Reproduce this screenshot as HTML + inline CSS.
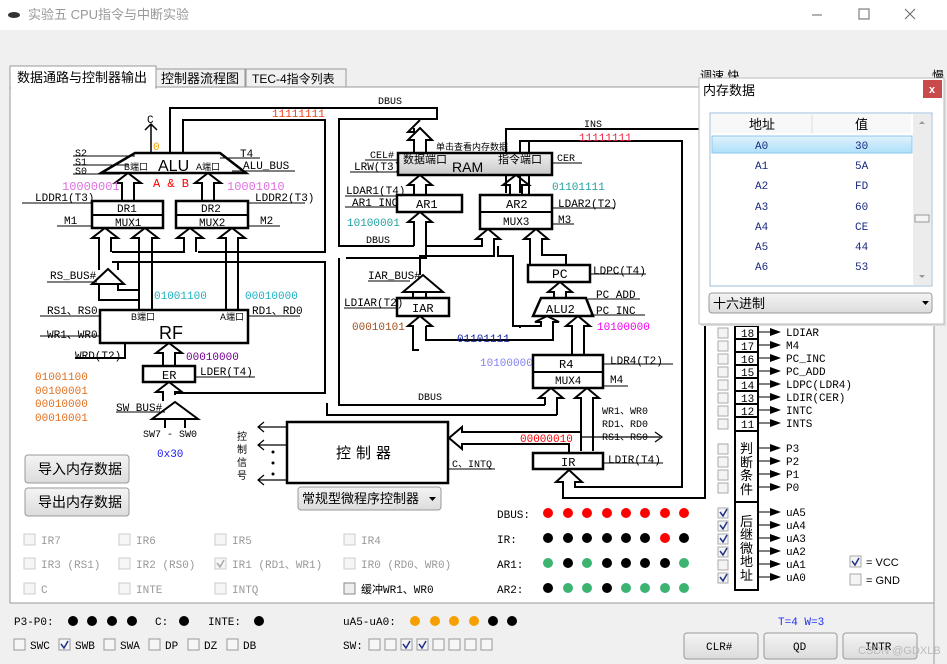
<!DOCTYPE html>
<html><head><meta charset="utf-8"><style>
body{margin:0;width:947px;height:664px;overflow:hidden;background:#f0f0f0;font-family:"Liberation Sans","Noto Sans CJK SC",sans-serif}
svg{position:absolute;left:0;top:0}
.m{font-family:"Liberation Mono","Noto Sans CJK SC",monospace;font-size:11px}
.c{font-family:"Liberation Sans","Noto Sans CJK SC",sans-serif}
</style></head><body>
<svg width="947" height="664" viewBox="0 0 947 664" xmlns="http://www.w3.org/2000/svg">
<defs>
<linearGradient id="btn" x1="0" y1="0" x2="0" y2="1"><stop offset="0" stop-color="#f4f4f4"/><stop offset="1" stop-color="#dcdcdc"/></linearGradient>
<linearGradient id="ram" x1="0" y1="0" x2="0" y2="1"><stop offset="0" stop-color="#f0f0f0"/><stop offset="1" stop-color="#c8c8c8"/></linearGradient>
<linearGradient id="sel" x1="0" y1="0" x2="0" y2="1"><stop offset="0" stop-color="#e0f2fd"/><stop offset="1" stop-color="#aee0f9"/></linearGradient>
</defs>
<!-- title bar -->
<rect x="0" y="0" width="947" height="30" fill="#fff"/>
<ellipse cx="14" cy="15" rx="6" ry="3" fill="#333"/>
<text x="28" y="19" class="c" font-size="13" fill="#999">实验五 CPU指令与中断实验</text>
<line x1="812" y1="15" x2="822" y2="15" stroke="#666"/>
<rect x="859" y="9" width="10" height="10" fill="none" stroke="#666"/>
<path d="M905 9l10 10M915 9l-10 10" stroke="#666"/>
<!-- tabs -->
<rect x="156" y="69" width="89" height="18" fill="#f0f0f0" stroke="#999"/>
<rect x="246" y="69" width="100" height="18" fill="#f0f0f0" stroke="#999"/>
<text x="161" y="83" class="c" font-size="13">控制器流程图</text>
<text x="252" y="83" class="c" font-size="12">TEC-4指令列表</text>
<rect x="10" y="87" width="924" height="516" fill="#fff" stroke="#999"/>
<rect x="10" y="66" width="146" height="22" fill="#fff" stroke="#999"/>
<rect x="11" y="86" width="144" height="3" fill="#fff"/>
<text x="17" y="82" class="c" font-size="13">数据通路与控制器输出</text>
<line x1="934" y1="87" x2="934" y2="664" stroke="#999"/>
<text x="700" y="80" class="c" font-size="12">调速 快</text>
<text x="932" y="80" class="c" font-size="12">慢</text>

<g stroke="#000" stroke-width="2" fill="none">
<path d="M170 153V108H437V119H339V246H414"/>
<path d="M183 153V120H325V252H198"/>
<path d="M112 252H185"/>
<path d="M112 262H325V393H176"/>
<path d="M339 258V405H545"/>
<path d="M327 403V415H557"/>
<path d="M346 258H426V246"/>
<path d="M135 153H220L246 173H101Z" stroke-width="2.5"/>
<path d="M151 153V124M145 130L151 124L157 130" stroke-width="1.5"/>
<path d="M122 201V183H115L128 173L141 183H134V201"/>
<path d="M202 201V183H195L208 173L221 183H214V201"/>
<path d="M99 270V238H92L105 228L118 238H111V252"/>
<path d="M139 310V238H132L145 228L158 238H152V310"/>
<path d="M184 252V238H177L190 228L203 238H196V252"/>
<path d="M226 310V238H219L232 228L245 238H238V310"/>
<path d="M118 270V262"/>
<path d="M99 284V300H139M118 284V290H139"/>
<path d="M163 366V353H156L169 343L182 353H175V366"/>
<path d="M163 401V392H156L169 382L182 392H175V395"/>
<path d="M92 284L108 269L124 284Z"/>
<path d="M152 419L175 402L198 419Z"/>
<path d="M165 419V428M185 419V428"/>
<rect x="92" y="201" width="71" height="27" stroke-width="2.5"/><path d="M92 215H163"/>
<rect x="176" y="201" width="72" height="27" stroke-width="2.5"/><path d="M176 215H248"/>
<rect x="100" y="310" width="148" height="33" stroke-width="2.5"/>
<rect x="143" y="366" width="52" height="16" stroke-width="2.5"/>
<path d="M125 343V358H75"/>
<path d="M414 153V140H408L420 128L432 140H426V153M414 128V132H408L420 120"/>
<path d="M414 195V185H408L420 175L432 185H426V195"/>
<path d="M510 195V185H503L516 175L529 185H522V195"/>
<rect x="397" y="195" width="65" height="17" stroke-width="2.5"/>
<rect x="480" y="195" width="72" height="34" stroke-width="2.5"/><path d="M480 212H552"/>
<path d="M414 246V222H408L420 212L432 222H426V246"/>
<path d="M426 246H482V239H476L488 229L500 239H494V256H420V275"/>
<path d="M506 193V129H705V498H563V482H556L569 470L582 482H575V487H682V141H520V193"/>
<path d="M529 195V141"/>
<path d="M530 265V239H524L536 229L548 239H542V255H566V265"/>
<rect x="528" y="265" width="62" height="17" stroke-width="2.5"/>
<path d="M554 298V292H548L560 282L572 292H566V298"/>
<path d="M541 298H586L593 316H533Z" stroke-width="2.5"/>
<path d="M542 326H513V256H498V246"/>
<path d="M520 328V326H541V322H535L547 316L559 322H553V340H426V326"/>
<path d="M413 340V326H408L420 316L432 326H426"/>
<path d="M572 355V326H566L578 316L590 326H584V355"/>
<path d="M403 292L423 275L443 292Z"/>
<rect x="397" y="298" width="52" height="18" stroke-width="2.5"/>
<path d="M413 298V292M426 298V292"/>
<path d="M413 340V350H419"/>
<rect x="533" y="355" width="70" height="33" stroke-width="2.5"/><path d="M533 372H603"/>
<path d="M545 405V398H539L551 388L563 398H557V415"/>
<path d="M581 451V398H575L587 388L599 398H593V451"/>
<rect x="533" y="453" width="70" height="16" stroke-width="2.5"/>
<path d="M581 437H660M655 432L662 437L655 442" stroke-width="1.2"/>
<rect x="287" y="422" width="161" height="61" stroke-width="2.5"/>
<path d="M569 453V444H462V449L449 438L462 427V432H581" />
<path d="M259 427H287M264 422L258 427L264 432M259 445H287M264 440L258 445L264 450M259 480H287M264 475L258 480L264 485" stroke-width="1.2"/>
<rect x="735" y="313" width="23" height="277" stroke-width="2"/>
<path d="M735 326H758M735 339H758M735 352H758M735 365H758M735 378H758M735 391H758M735 404H758M735 417H758M735 431H758M735 502H758"/>
</g>
<g stroke="#000" stroke-width="1" fill="none">
<path d="M73 156H135M73 165H128M73 174H120"/>
<path d="M220 158H260M232 171H295"/>
<path d="M22 203H92M57 226H92M248 203H305M248 226H280"/>
<path d="M47 282H97M40 316H100M40 336H100M248 316H300"/>
<path d="M195 377H255M116 412H165"/>
<path d="M365 160H398M350 172H398M552 163H582"/>
<path d="M345 196H397M345 207H397M552 208H615M552 224H574"/>
<path d="M368 281H410M344 308H397M590 274H646M588 299H640M590 315H645"/>
<path d="M603 364H673M603 386H628M603 463H663M448 469H495"/>
<path d="M758 332H770M758 345H770M758 358H770M758 371H770M758 384H770M758 397H770M758 410H770M758 423H770"/>
<path d="M758 448H770M758 461H770M758 474H770M758 487H770M758 512H770M758 525H770M758 538H770M758 551H770M758 564H770M758 577H770"/>
</g>
<g fill="#000">
<path d="M770 328l11 4l-11 4zM770 341l11 4l-11 4zM770 354l11 4l-11 4zM770 367l11 4l-11 4zM770 380l11 4l-11 4zM770 393l11 4l-11 4zM770 406l11 4l-11 4zM770 419l11 4l-11 4zM770 444l11 4l-11 4zM770 457l11 4l-11 4zM770 470l11 4l-11 4zM770 483l11 4l-11 4zM770 508l11 4l-11 4zM770 521l11 4l-11 4zM770 534l11 4l-11 4zM770 547l11 4l-11 4zM770 560l11 4l-11 4zM770 573l11 4l-11 4z"/>
<circle cx="273" cy="452" r="1.5"/><circle cx="273" cy="463" r="1.5"/><circle cx="273" cy="474" r="1.5"/>
</g>
<rect x="398" y="153" width="154" height="22" fill="url(#ram)" stroke="#000" stroke-width="2.5"/>

<g class="m" fill="#000">
<text x="147" y="123">C</text>
<text x="75" y="156" font-size="10">S2</text><text x="75" y="165" font-size="10">S1</text><text x="75" y="174" font-size="10">S0</text>
<text x="158" y="171" font-size="16" class="c">ALU</text>
<text x="124" y="170" font-size="9" class="c">B端口</text><text x="196" y="170" font-size="9" class="c">A端口</text>
<text x="240" y="157">T4</text><text x="243" y="169">ALU_BUS</text>
<text x="35" y="201">LDDR1(T3)</text><text x="255" y="201">LDDR2(T3)</text>
<text x="64" y="224">M1</text><text x="260" y="224">M2</text>
<text x="117" y="212">DR1</text><text x="115" y="226">MUX1</text>
<text x="201" y="212">DR2</text><text x="199" y="226">MUX2</text>
<text x="50" y="279">RS_BUS#</text>
<text x="47" y="314">RS1、RS0</text><text x="47" y="338">WR1、WR0</text><text x="252" y="314">RD1、RD0</text>
<text x="131" y="320" font-size="9" class="c">B端口</text><text x="220" y="320" font-size="9" class="c">A端口</text>
<text x="159" y="339" font-size="18" class="c">RF</text>
<text x="75" y="359">WRD(T2)</text>
<text x="162" y="379" font-size="12">ER</text>
<text x="200" y="375">LDER(T4)</text>
<text x="116" y="411">SW_BUS#</text>
<text x="143" y="437" font-size="10">SW7 - SW0</text>
<text x="378" y="104" font-size="10">DBUS</text>
<text x="584" y="127" font-size="10">INS</text>
<text x="436" y="150" font-size="9" class="c">单击查看内存数据</text>
<text x="370" y="158" font-size="10">CEL#</text><text x="354" y="170">LRW(T3)</text>
<text x="403" y="163" font-size="11" class="c">数据端口</text><text x="498" y="163" font-size="11" class="c">指令端口</text>
<text x="452" y="172" font-size="14" class="c">RAM</text>
<text x="557" y="161" font-size="10">CER</text>
<text x="346" y="194">LDAR1(T4)</text><text x="352" y="206">AR1_INC</text>
<text x="416" y="208" font-size="12">AR1</text>
<text x="506" y="208" font-size="12">AR2</text><text x="503" y="225">MUX3</text>
<text x="558" y="207">LDAR2(T2)</text><text x="558" y="223">M3</text>
<text x="366" y="243" font-size="10">DBUS</text>
<text x="552" y="278" font-size="13">PC</text><text x="593" y="274">LDPC(T4)</text>
<text x="368" y="279">IAR_BUS#</text><text x="344" y="306">LDIAR(T2)</text>
<text x="412" y="312" font-size="12">IAR</text>
<text x="546" y="313" font-size="12">ALU2</text>
<text x="596" y="298">PC_ADD</text><text x="596" y="314">PC_INC</text>
<text x="559" y="368" font-size="12">R4</text><text x="555" y="384">MUX4</text>
<text x="610" y="364">LDR4(T2)</text><text x="610" y="383">M4</text>
<text x="418" y="400" font-size="10">DBUS</text>
<text x="602" y="414" font-size="10">WR1、WR0</text><text x="602" y="427" font-size="10">RD1、RD0</text><text x="602" y="440" font-size="10">RS1、RS0</text>
<text x="561" y="466" font-size="12">IR</text><text x="608" y="463">LDIR(T4)</text>
<text x="452" y="467" font-size="10">C、INTQ</text>
<text x="336" y="458" font-size="15" class="c" letter-spacing="5">控制器</text>
<text x="237" y="440" font-size="10" class="c">控</text><text x="237" y="453" font-size="10" class="c">制</text><text x="237" y="466" font-size="10" class="c">信</text><text x="237" y="479" font-size="10" class="c">号</text>
</g>
<g class="m">
<text x="272" y="117" fill="#f04020">11111111</text>
<text x="153" y="150" fill="#f0a000">0</text>
<text x="153" y="187" fill="#f00" font-size="12">A &amp; B</text>
<text x="62" y="190" fill="#e070e0" font-size="12">10000001</text>
<text x="227" y="190" fill="#e070e0" font-size="12">10001010</text>
<text x="154" y="299" fill="#20b0c0">01001100</text>
<text x="245" y="299" fill="#20b0c0">00010000</text>
<text x="186" y="360" fill="#700090">00010000</text>
<text x="35" y="380" fill="#e07020">01001100</text>
<text x="35" y="394" fill="#e07020">00100001</text>
<text x="35" y="407" fill="#e07020">00010000</text>
<text x="35" y="421" fill="#e07020">00010001</text>
<text x="157" y="457" fill="#2020f0">0x30</text>
<text x="579" y="141" fill="#f02040">11111111</text>
<text x="552" y="190" fill="#20a0a0">01101111</text>
<text x="347" y="226" fill="#20a0a0">10100001</text>
<text x="352" y="330" fill="#a05020">00010101</text>
<text x="457" y="342" fill="#1020a0">01101111</text>
<text x="597" y="330" fill="#f000f0">10100000</text>
<text x="480" y="366" fill="#8080f0">10100000</text>
<text x="520" y="442" fill="#f00">00000010</text>
</g>
<g class="m" fill="#000" font-size="12">
<text x="741" y="337">18</text><text x="741" y="350">17</text><text x="741" y="363">16</text><text x="741" y="376">15</text><text x="741" y="389">14</text><text x="741" y="402">13</text><text x="741" y="415">12</text><text x="741" y="428">11</text>
<text x="786" y="336">LDIAR</text><text x="786" y="349">M4</text><text x="786" y="362">PC_INC</text><text x="786" y="375">PC_ADD</text><text x="786" y="388">LDPC(LDR4)</text><text x="786" y="401">LDIR(CER)</text><text x="786" y="414">INTC</text><text x="786" y="427">INTS</text>
<text x="786" y="452">P3</text><text x="786" y="465">P2</text><text x="786" y="478">P1</text><text x="786" y="491">P0</text>
<text x="786" y="516">uA5</text><text x="786" y="529">uA4</text><text x="786" y="542">uA3</text><text x="786" y="555">uA2</text><text x="786" y="568">uA1</text><text x="786" y="581">uA0</text>
<text x="866" y="566" class="c">=  VCC</text><text x="866" y="584" class="c">=  GND</text>
</g>
<g class="c" font-size="13" fill="#000">
<text x="740" y="453">判</text><text x="740" y="467">断</text><text x="740" y="480">条</text><text x="740" y="494">件</text>
<text x="740" y="526">后</text><text x="740" y="539">继</text><text x="740" y="553">微</text><text x="740" y="566">地</text><text x="740" y="580">址</text>
</g>
<g fill="#f4f4f4" stroke="#aaa">
<rect x="718" y="328" width="10" height="10"/><rect x="718" y="341" width="10" height="10"/><rect x="718" y="354" width="10" height="10"/><rect x="718" y="367" width="10" height="10"/><rect x="718" y="380" width="10" height="10"/><rect x="718" y="393" width="10" height="10"/><rect x="718" y="406" width="10" height="10"/><rect x="718" y="419" width="10" height="10"/>
<rect x="718" y="444" width="10" height="10"/><rect x="718" y="457" width="10" height="10"/><rect x="718" y="470" width="10" height="10"/><rect x="718" y="483" width="10" height="10"/>
<rect x="718" y="508" width="10" height="10"/><rect x="718" y="521" width="10" height="10"/><rect x="718" y="534" width="10" height="10"/><rect x="718" y="547" width="10" height="10"/><rect x="718" y="560" width="10" height="10"/><rect x="718" y="573" width="10" height="10"/>
<rect x="850" y="556" width="11" height="11"/><rect x="850" y="574" width="11" height="11"/>
</g>
<g stroke="#223388" stroke-width="1.5" fill="none">
<path d="M720 512l3 4l4-7M720 525l3 4l4-7M720 538l3 4l4-7M720 551l3 4l4-7M720 577l3 4l4-7M852 561l3 4l4-7"/>
</g>
<g class="m" font-size="12" fill="#000">
<text x="497" y="518">DBUS:</text><text x="497" y="543">IR:</text><text x="497" y="568">AR1:</text><text x="497" y="593">AR2:</text>
</g>
<g fill="#f00"><circle cx="548" cy="513" r="5"/><circle cx="568" cy="513" r="5"/><circle cx="587" cy="513" r="5"/><circle cx="607" cy="513" r="5"/><circle cx="626" cy="513" r="5"/><circle cx="645" cy="513" r="5"/><circle cx="665" cy="513" r="5"/><circle cx="684" cy="513" r="5"/><circle cx="665" cy="538" r="5"/></g>
<g fill="#000"><circle cx="548" cy="538" r="5"/><circle cx="568" cy="538" r="5"/><circle cx="587" cy="538" r="5"/><circle cx="607" cy="538" r="5"/><circle cx="626" cy="538" r="5"/><circle cx="645" cy="538" r="5"/><circle cx="684" cy="538" r="5"/>
<circle cx="568" cy="563" r="5"/><circle cx="607" cy="563" r="5"/><circle cx="626" cy="563" r="5"/><circle cx="645" cy="563" r="5"/><circle cx="665" cy="563" r="5"/>
<circle cx="548" cy="588" r="5"/><circle cx="607" cy="588" r="5"/></g>
<g fill="#3cb371"><circle cx="548" cy="563" r="5"/><circle cx="587" cy="563" r="5"/><circle cx="684" cy="563" r="5"/>
<circle cx="568" cy="588" r="5"/><circle cx="587" cy="588" r="5"/><circle cx="626" cy="588" r="5"/><circle cx="645" cy="588" r="5"/><circle cx="665" cy="588" r="5"/><circle cx="684" cy="588" r="5"/></g>
<rect x="25" y="455" width="104" height="28" rx="3" fill="url(#btn)" stroke="#999"/>
<rect x="25" y="488" width="104" height="28" rx="3" fill="url(#btn)" stroke="#999"/>
<text x="38" y="474" class="c" font-size="14">导入内存数据</text>
<text x="38" y="507" class="c" font-size="14">导出内存数据</text>
<rect x="298" y="487" width="143" height="23" rx="3" fill="url(#btn)" stroke="#999"/>
<text x="302" y="503" class="c" font-size="13">常规型微程序控制器</text>
<path d="M429 497h7l-3.5 4z" fill="#000"/>
<g fill="#f6f6f6" stroke="#ccc">
<rect x="24" y="534" width="11" height="11"/><rect x="119" y="534" width="11" height="11"/><rect x="215" y="534" width="11" height="11"/><rect x="344" y="534" width="11" height="11"/>
<rect x="24" y="558" width="11" height="11"/><rect x="119" y="558" width="11" height="11"/><rect x="215" y="558" width="11" height="11"/><rect x="344" y="558" width="11" height="11"/>
<rect x="24" y="583" width="11" height="11"/><rect x="119" y="583" width="11" height="11"/><rect x="215" y="583" width="11" height="11"/>
</g>
<rect x="344" y="583" width="11" height="11" fill="#eee" stroke="#888"/>
<path d="M217 563l3 4l4-7" stroke="#aaa" stroke-width="1.5" fill="none"/>
<g class="m" font-size="12" fill="#999">
<text x="41" y="544">IR7</text><text x="136" y="544">IR6</text><text x="232" y="544">IR5</text><text x="361" y="544">IR4</text>
<text x="41" y="568">IR3 (RS1)</text><text x="136" y="568">IR2 (RS0)</text><text x="232" y="568">IR1 (RD1、WR1)</text><text x="361" y="568">IR0 (RD0、WR0)</text>
<text x="41" y="593">C</text><text x="136" y="593">INTE</text><text x="232" y="593">INTQ</text>
</g>
<text x="361" y="593" class="m" font-size="12" fill="#000">缓冲WR1、WR0</text>
<g class="m" font-size="12" fill="#000">
<text x="14" y="625">P3-P0:</text><text x="155" y="625">C:</text><text x="208" y="625">INTE:</text><text x="343" y="625">uA5-uA0:</text>
<text x="30" y="649">SWC</text><text x="75" y="649">SWB</text><text x="120" y="649">SWA</text><text x="165" y="649">DP</text><text x="204" y="649">DZ</text><text x="243" y="649">DB</text>
<text x="343" y="649">SW:</text>
</g>
<text x="778" y="625" class="m" font-size="12" fill="#2030f0">T=4 W=3</text>
<g fill="#000"><circle cx="73" cy="621" r="5"/><circle cx="92" cy="621" r="5"/><circle cx="112" cy="621" r="5"/><circle cx="132" cy="621" r="5"/><circle cx="184" cy="621" r="5"/><circle cx="259" cy="621" r="5"/><circle cx="493" cy="621" r="5"/><circle cx="512" cy="621" r="5"/></g>
<g fill="#f5a000"><circle cx="415" cy="621" r="5"/><circle cx="435" cy="621" r="5"/><circle cx="454" cy="621" r="5"/><circle cx="474" cy="621" r="5"/></g>
<g fill="#f6f6f6" stroke="#999">
<rect x="14" y="639" width="11" height="11"/><rect x="59" y="639" width="11" height="11"/><rect x="104" y="639" width="11" height="11"/><rect x="149" y="639" width="11" height="11"/><rect x="188" y="639" width="11" height="11"/><rect x="227" y="639" width="11" height="11"/>
<rect x="369" y="639" width="11" height="11"/><rect x="385" y="639" width="11" height="11"/><rect x="401" y="639" width="11" height="11"/><rect x="417" y="639" width="11" height="11"/><rect x="433" y="639" width="11" height="11"/><rect x="449" y="639" width="11" height="11"/><rect x="465" y="639" width="11" height="11"/><rect x="481" y="639" width="11" height="11"/>
</g>
<path d="M61 644l3 4l4-7M403 644l3 4l4-7M419 644l3 4l4-7" stroke="#223388" stroke-width="1.5" fill="none"/>
<rect x="684" y="633" width="74" height="26" rx="3" fill="url(#btn)" stroke="#999"/>
<rect x="764" y="633" width="73" height="26" rx="3" fill="url(#btn)" stroke="#999"/>
<rect x="843" y="633" width="74" height="26" rx="3" fill="url(#btn)" stroke="#999"/>
<text x="706" y="650" class="m" font-size="12">CLR#</text><text x="793" y="650" class="m" font-size="12">QD</text><text x="865" y="650" class="m" font-size="12">INTR</text>
<text x="858" y="654" class="c" font-size="11" fill="#bbb">CSDN @GDXLB</text>
<!-- popup -->
<rect x="701" y="80" width="245" height="246" fill="#ddd"/>
<rect x="699" y="78" width="245" height="246" fill="#fff" stroke="#bbb"/>
<text x="703" y="95" class="c" font-size="13">内存数据</text>
<rect x="923" y="80" width="19" height="18" fill="#c94a4a"/>
<text x="929" y="93" class="c" font-size="11" fill="#fff" font-weight="bold">x</text>
<rect x="710" y="113" width="222" height="173" fill="#fff" stroke="#9cbcd8"/>
<rect x="711" y="114" width="200" height="19" fill="#f8f8f8"/>
<line x1="812" y1="115" x2="812" y2="133" stroke="#ddd"/>
<rect x="913" y="114" width="18" height="171" fill="#ececec"/>
<rect x="915" y="215" width="14" height="7" fill="#f4f4f4" stroke="#999"/>
<path d="M919 124l3-3l3 3zM919 275l3 3l3-3z" fill="#999"/>
<text x="749" y="129" class="c" font-size="13">地址</text><text x="855" y="129" class="c" font-size="13">值</text>
<rect x="712" y="136" width="200" height="17" fill="url(#sel)" stroke="#8cc8ec"/>
<g class="m" font-size="12" fill="#1a2a80">
<text x="755" y="149">A0</text><text x="855" y="149">30</text>
<text x="755" y="169">A1</text><text x="855" y="169">5A</text>
<text x="755" y="189">A2</text><text x="855" y="189">FD</text>
<text x="755" y="210">A3</text><text x="855" y="210">60</text>
<text x="755" y="230">A4</text><text x="855" y="230">CE</text>
<text x="755" y="250">A5</text><text x="855" y="250">44</text>
<text x="755" y="270">A6</text><text x="855" y="270">53</text>
</g>
<rect x="709" y="293" width="223" height="20" rx="3" fill="url(#btn)" stroke="#999"/>
<text x="713" y="308" class="c" font-size="13">十六进制</text>
<path d="M922 301h7l-3.5 4z" fill="#000"/>
</svg>
</body></html>
